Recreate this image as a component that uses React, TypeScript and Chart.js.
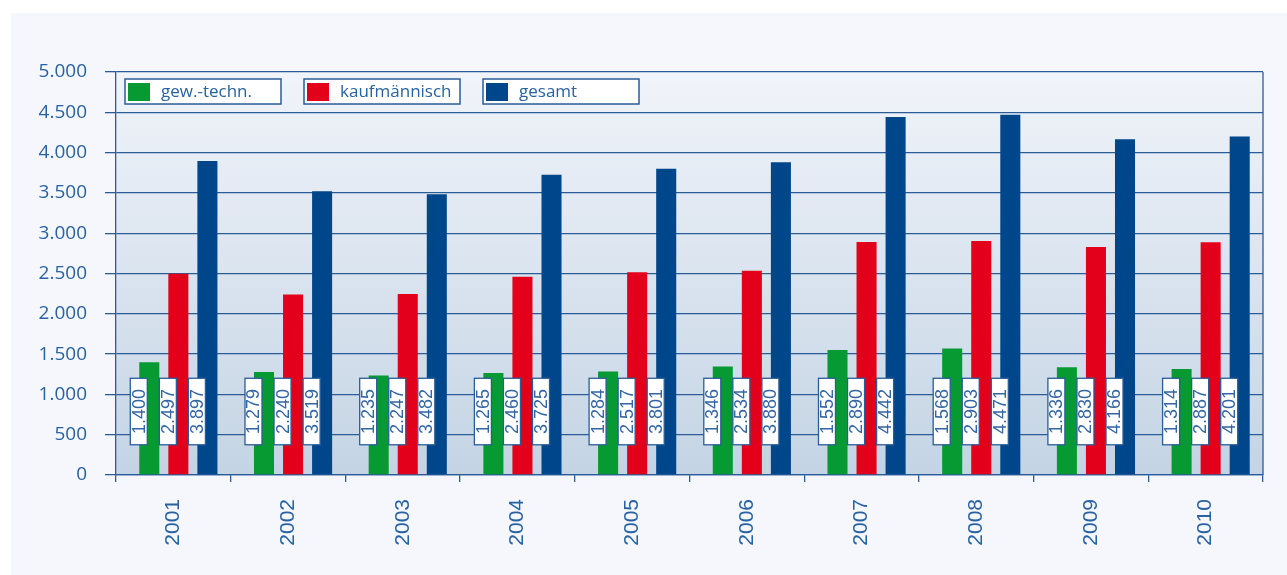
import React, { useEffect, useRef } from 'react';
import { Chart, registerables } from 'chart.js';

Chart.register(...registerables);

const years = ['2001', '2002', '2003', '2004', '2005', '2006', '2007', '2008', '2009', '2010'];
const gewTechn = [1400, 1279, 1235, 1265, 1284, 1346, 1552, 1568, 1336, 1314];
const kaufmaennisch = [2497, 2240, 2247, 2460, 2517, 2534, 2890, 2903, 2830, 2887];
const gesamt = [3897, 3519, 3482, 3725, 3801, 3880, 4442, 4471, 4166, 4201];
const seriesNames = ['gew.-techn.', 'kaufmännisch', 'gesamt'];
const seriesColors = ['#079a33', '#e3001b', '#00468b'];
const yMax = 5000;
const yStep = 500;
const labelBoxRange = [375, 1200];

const BLUE = '#2a5d98';
const TEXT = '#2862a2';
const BAR_SHIFT = 5;
const LABEL_SHIFT = -5.5;

function fmt(v: number): string {
  const s = String(Math.round(v));
  return s.replace(/\B(?=(\d{3})+(?!\d))/g, '.');
}

const decorPlugin = {
  id: 'decor',
  beforeDraw(chart: any) {
    const { ctx, chartArea: a } = chart;
    const g = ctx.createLinearGradient(0, a.top, 0, a.bottom);
    g.addColorStop(0, '#f1f4fa');
    g.addColorStop(1, '#c4d4e4');
    ctx.save();
    ctx.fillStyle = g;
    ctx.fillRect(a.left, a.top, a.right - a.left, a.bottom - a.top);
    ctx.restore();
  },
  beforeDatasetsDraw(chart: any) {
    chart.ctx.save();
    chart.ctx.translate(BAR_SHIFT, 0);
  },
  afterDatasetsDraw(chart: any) {
    const ctx = chart.ctx;
    ctx.restore();
    const y = chart.scales.y;
    const yTop = y.getPixelForValue(labelBoxRange[1]);
    const yBot = y.getPixelForValue(labelBoxRange[0]);
    const bw = 17;
    chart.data.datasets.forEach((ds: any, di: number) => {
      const meta = chart.getDatasetMeta(di);
      meta.data.forEach((bar: any, i: number) => {
        const cx = bar.x + LABEL_SHIFT;
        ctx.save();
        ctx.fillStyle = '#ffffff';
        ctx.fillRect(cx - bw / 2, yTop, bw, yBot - yTop);
        ctx.strokeStyle = BLUE;
        ctx.lineWidth = 1.3;
        ctx.strokeRect(cx - bw / 2, yTop, bw, yBot - yTop);
        ctx.translate(cx, (yTop + yBot) / 2);
        ctx.rotate(-Math.PI / 2);
        ctx.fillStyle = '#3466a3';
        ctx.font = "18px 'Liberation Sans Narrow', 'Liberation Sans', sans-serif";
        ctx.textAlign = 'center';
        ctx.textBaseline = 'middle';
        ctx.fillText(fmt(ds.data[i]), 0, 1);
        ctx.restore();
      });
    });
  },
  afterDraw(chart: any) {
    const { ctx, chartArea: a } = chart;
    ctx.save();
    ctx.strokeStyle = BLUE;
    ctx.lineWidth = 1.3;
    ctx.beginPath();
    ctx.moveTo(a.right, a.top);
    ctx.lineTo(a.right, a.bottom);
    ctx.stroke();
    // legend
    const bw = 156, bh = 25;
    chart.data.datasets.forEach((ds: any, i: number) => {
      const lx = a.left + 9 + i * 179;
      const ly = a.top + 7;
      ctx.fillStyle = '#ffffff';
      ctx.fillRect(lx, ly, bw, bh);
      ctx.strokeStyle = BLUE;
      ctx.lineWidth = 1.5;
      ctx.strokeRect(lx, ly, bw, bh);
      ctx.fillStyle = ds.backgroundColor;
      ctx.fillRect(lx + 3, ly + 4, 22, 18);
      ctx.fillStyle = TEXT;
      ctx.font = "17px 'Open Sans', sans-serif";
      ctx.textAlign = 'left';
      ctx.textBaseline = 'middle';
      ctx.fillText(ds.label, lx + 36, ly + bh / 2 + 1);
    });
    ctx.restore();
  },
};

export default function App() {
  const ref = useRef<HTMLCanvasElement | null>(null);

  useEffect(() => {
    if (!ref.current) return;
    const seriesData = [gewTechn, kaufmaennisch, gesamt];
    const chart = new Chart(ref.current, {
      type: 'bar',
      data: {
        labels: years,
        datasets: seriesData.map((d, i) => ({
          label: seriesNames[i],
          data: d,
          backgroundColor: seriesColors[i],
          borderWidth: 0,
          categoryPercentage: 0.76,
          barPercentage: 0.69,
        })),
      },
      options: {
        responsive: false,
        animation: false,
        layout: { padding: { left: 0, top: 72, right: 24, bottom: 0 } },
        plugins: { legend: { display: false }, tooltip: { enabled: false } },
        scales: {
          x: {
            grid: {
              display: true,
              drawOnChartArea: false,
              drawTicks: true,
              tickLength: 7,
              offset: true,
              color: BLUE,
              lineWidth: 1.3,
            },
            border: { display: true, color: BLUE, width: 1.3 },
            ticks: {
              minRotation: 90,
              maxRotation: 90,
              padding: 17,
              color: TEXT,
              font: { family: "'Liberation Sans Narrow', 'Liberation Sans', sans-serif", size: 21 },
            },
            afterFit(scale: any) {
              scale.height = 100;
            },
          },
          y: {
            min: 0,
            max: yMax,
            grid: {
              color: BLUE,
              lineWidth: 1.3,
              drawTicks: true,
              tickLength: 11,
            },
            border: { display: true, color: BLUE, width: 1.3 },
            ticks: {
              stepSize: yStep,
              padding: 18,
              color: TEXT,
              font: { family: "'Open Sans', sans-serif", size: 19 },
              callback: (v: any) => fmt(Number(v)),
            },
            afterFit(scale: any) {
              scale.width = 116;
            },
          },
        },
      },
      plugins: [decorPlugin],
    });
    return () => chart.destroy();
  }, []);

  return (
    <div style={{ position: 'fixed', left: 0, top: 0, width: 1287, height: 575, background: '#ffffff' }}>
      <div style={{ position: 'absolute', left: 11, top: 13, right: 0, bottom: 0, background: '#f5f7fc' }} />
      <canvas ref={ref} width={1287} height={575} style={{ position: 'absolute', left: 0, top: 0 }} />
    </div>
  );
}
